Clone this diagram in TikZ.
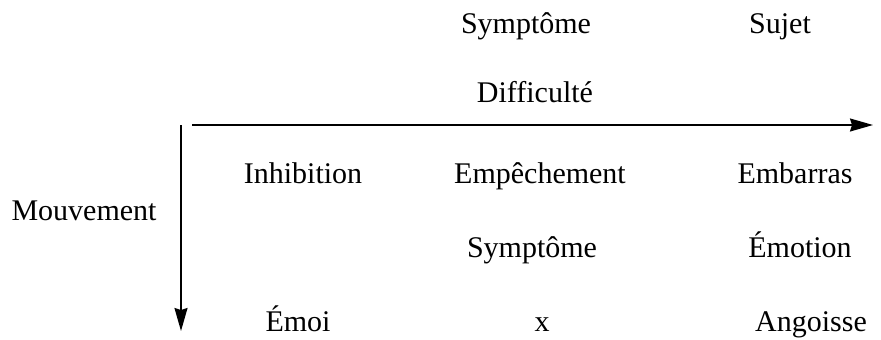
\documentclass[tikz,border=0pt]{standalone}
\usepackage{fontspec}
\setmainfont{Liberation Serif}
\usetikzlibrary{arrows.meta}

\begin{document}
\begin{tikzpicture}[x=1pt,y=-1pt,
        word/.style={anchor=base,inner sep=0pt,font=\fontsize{30}{36}\selectfont},
        axis/.style={line width=1.6pt,-{Stealth[length=23pt,width=13pt,inset=2pt]}}]
        \useasboundingbox (0,0) rectangle (881,340);
        % column heads
        \node[word] (symptomehead) at (526,33) {Symptôme};
        \node[word] (sujet) at (780,33) {Sujet};
        \node[word] (difficulte) at (535,102) {Difficulté};
        \node[word] (mouvement) at (84,220) {Mouvement};
        % first row
        \node[word] (inhibition) at (303,183) {Inhibition};
        \node[word] (empechement) at (540,183) {Empêchement};
        \node[word] (embarras) at (795,183) {Embarras};
        % second row
        \node[word] (symptome) at (532,257) {Symptôme};
        \node[word] (emotion) at (800,257) {Émotion};
        % third row
        \node[word] (emoi) at (298,331) {Émoi};
        \node[word] (x) at (542,331) {x};
        \node[word] (angoisse) at (811,331) {Angoisse};
        % axes
        \coordinate (vstart) at (181,125);
        \coordinate (vend) at (181,331);
        \coordinate (hstart) at (192,125);
        \coordinate (hend) at (873,125);
        \draw[axis] (hstart) -- (hend);
        \draw[axis] (vstart) -- (vend);
\end{tikzpicture}
\end{document}
